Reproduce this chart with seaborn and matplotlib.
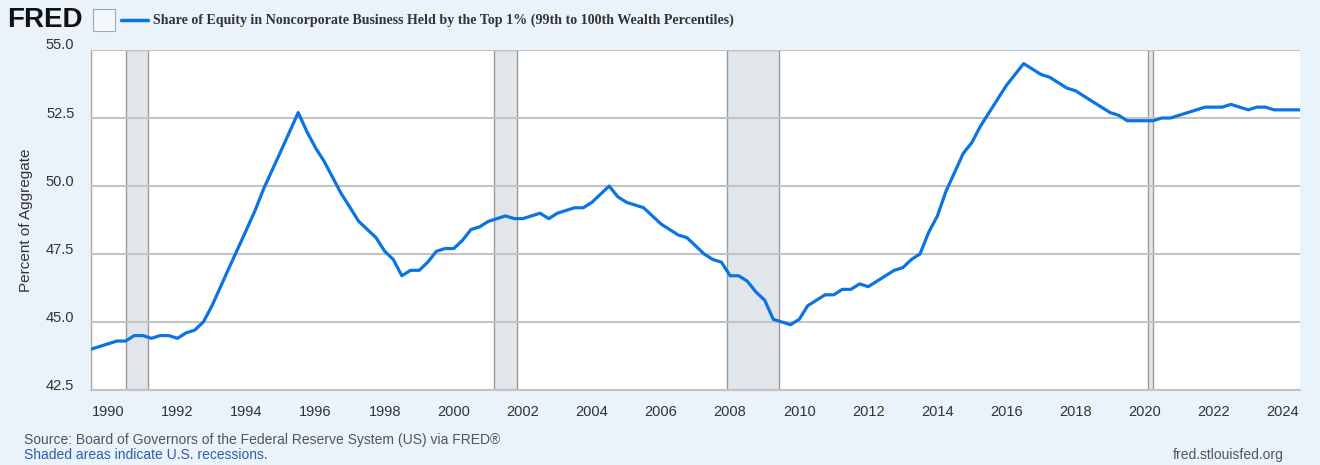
import pandas as pd
import numpy as np
import seaborn as sns
import matplotlib.pyplot as plt
import matplotlib.dates as mdates
import matplotlib.transforms as mtransforms
from matplotlib.patches import Rectangle

# Quarterly values, 1989Q3 .. 2024Q3
start_date = "1989-07-01"
share_top1 = [
    44.0, 44.1,
    44.2, 44.3, 44.3, 44.5,   # 1990
    44.5, 44.4, 44.5, 44.5,   # 1991
    44.4, 44.6, 44.7, 45.0,   # 1992
    45.6, 46.3, 47.0, 47.7,   # 1993
    48.4, 49.1, 49.9, 50.6,   # 1994
    51.3, 52.0, 52.7, 52.0,   # 1995
    51.4, 50.9, 50.3, 49.7,   # 1996
    49.2, 48.7, 48.4, 48.1,   # 1997
    47.6, 47.3, 46.7, 46.9,   # 1998
    46.9, 47.2, 47.6, 47.7,   # 1999
    47.7, 48.0, 48.4, 48.5,   # 2000
    48.7, 48.8, 48.9, 48.8,   # 2001
    48.8, 48.9, 49.0, 48.8,   # 2002
    49.0, 49.1, 49.2, 49.2,   # 2003
    49.4, 49.7, 50.0, 49.6,   # 2004
    49.4, 49.3, 49.2, 48.9,   # 2005
    48.6, 48.4, 48.2, 48.1,   # 2006
    47.8, 47.5, 47.3, 47.2,   # 2007
    46.7, 46.7, 46.5, 46.1,   # 2008
    45.8, 45.1, 45.0, 44.9,   # 2009
    45.1, 45.6, 45.8, 46.0,   # 2010
    46.0, 46.2, 46.2, 46.4,   # 2011
    46.3, 46.5, 46.7, 46.9,   # 2012
    47.0, 47.3, 47.5, 48.3,   # 2013
    48.9, 49.8, 50.5, 51.2,   # 2014
    51.6, 52.2, 52.7, 53.2,   # 2015
    53.7, 54.1, 54.5, 54.3,   # 2016
    54.1, 54.0, 53.8, 53.6,   # 2017
    53.5, 53.3, 53.1, 52.9,   # 2018
    52.7, 52.6, 52.4, 52.4,   # 2019
    52.4, 52.4, 52.5, 52.5,   # 2020
    52.6, 52.7, 52.8, 52.9,   # 2021
    52.9, 52.9, 53.0, 52.9,   # 2022
    52.8, 52.9, 52.9, 52.8,   # 2023
    52.8, 52.8, 52.8,         # 2024
]

recession_starts = ["1990-07-01", "2001-03-01", "2007-12-01", "2020-02-01"]
recession_ends = ["1991-03-01", "2001-11-01", "2009-06-01", "2020-04-01"]

y_ticks = [42.5, 45.0, 47.5, 50.0, 52.5, 55.0]
x_tick_years = list(range(1990, 2025, 2))

title = "Share of Equity in Noncorporate Business Held by the Top 1% (99th to 100th Wealth Percentiles)"

df = pd.DataFrame({
    "date": pd.date_range(start_date, periods=len(share_top1), freq="QS"),
    "value": share_top1,
})

bg = "#EAF2FA"
line_color = "#0A74E2"

sns.set_style("white")
plt.rcParams["font.family"] = ["Liberation Sans", "DejaVu Sans"]

fig = plt.figure(figsize=(13.2, 4.65), dpi=100, facecolor=bg)
ax = fig.add_axes([91 / 1320, 1 - 390 / 465, (1300 - 91) / 1320, (390 - 50) / 465])
ax.set_facecolor("white")

# recession shading
for s, e in zip(recession_starts, recession_ends):
    ax.axvspan(pd.Timestamp(s), pd.Timestamp(e), facecolor="#E1E6EB",
               edgecolor="#9A9A9A", linewidth=1.0, zorder=1)

sns.lineplot(data=df, x="date", y="value", ax=ax, color=line_color,
             linewidth=2.3, zorder=3)

ax.set_xlim(pd.Timestamp("1989-07-01"), pd.Timestamp("2024-07-01"))
ax.set_ylim(42.5, 55.0)
ax.set_yticks(y_ticks)
ax.set_yticklabels([f"{v:.1f}" for v in y_ticks])
ax.yaxis.grid(True, color="#C3C3C3", linewidth=1.5, zorder=2)
ax.set_axisbelow(False)
ax.xaxis.grid(False)

ax.set_xticks([pd.Timestamp(f"{y}-01-01") for y in x_tick_years])
ax.xaxis.set_major_formatter(mdates.DateFormatter("%Y"))

for side in ["top", "right"]:
    ax.spines[side].set_visible(False)
ax.spines["left"].set_color("#A8A8A8")
ax.spines["left"].set_linewidth(1.0)
ax.spines["bottom"].set_color("#C3C3C3")
ax.spines["bottom"].set_linewidth(1.5)

ax.tick_params(axis="x", length=10, width=1.2, color="#C2CEE2", pad=1,
               labelsize=10.5, labelcolor="#333333", direction="out")
ax.tick_params(axis="y", length=0, pad=12, labelsize=10.5, labelcolor="#333333")

# nudge y labels slightly above gridlines as on FRED
offset = mtransforms.ScaledTranslation(0, 6 / 100, fig.dpi_scale_trans)
for lab in ax.get_yticklabels():
    lab.set_transform(lab.get_transform() + offset)

ax.set_xlabel("")
ax.set_ylabel("Percent of Aggregate", fontsize=11, color="#333333", labelpad=9)

# header: FRED wordmark, icon, legend entry
fig.text(7 / 1320, 1 - 20 / 465, "FRED", fontsize=20, fontweight="heavy",
         color="#111111", va="center", ha="left")
fig.patches.append(Rectangle((93 / 1320, 1 - 31 / 465), 22 / 1320, 22 / 465,
                             transform=fig.transFigure, facecolor="#F4F8FC",
                             edgecolor="#9AA8B8", linewidth=0.8))
fig.lines.append(plt.Line2D([121 / 1320, 148 / 1320], [1 - 20 / 465, 1 - 20 / 465],
                            transform=fig.transFigure, color=line_color, linewidth=2.5))
fig.text(153 / 1320, 1 - 20 / 465, title, fontsize=10.1, fontweight="bold",
         family=["Liberation Serif", "DejaVu Serif"], color="#333333",
         va="center", ha="left")

# footer
fig.text(24 / 1320, 1 - 440 / 465, "Source: Board of Governors of the Federal Reserve System (US) via FRED\u00ae",
         fontsize=10, color="#555555", va="center", ha="left")
fig.text(24 / 1320, 1 - 455 / 465, "Shaded areas indicate U.S. recessions.",
         fontsize=10, color="#2F5DA8", va="center", ha="left")
fig.text(1284 / 1320, 1 - 455 / 465, "fred.stlouisfed.org",
         fontsize=10, color="#555555", va="center", ha="right")

plt.savefig("out.png", dpi=100, facecolor=bg)
